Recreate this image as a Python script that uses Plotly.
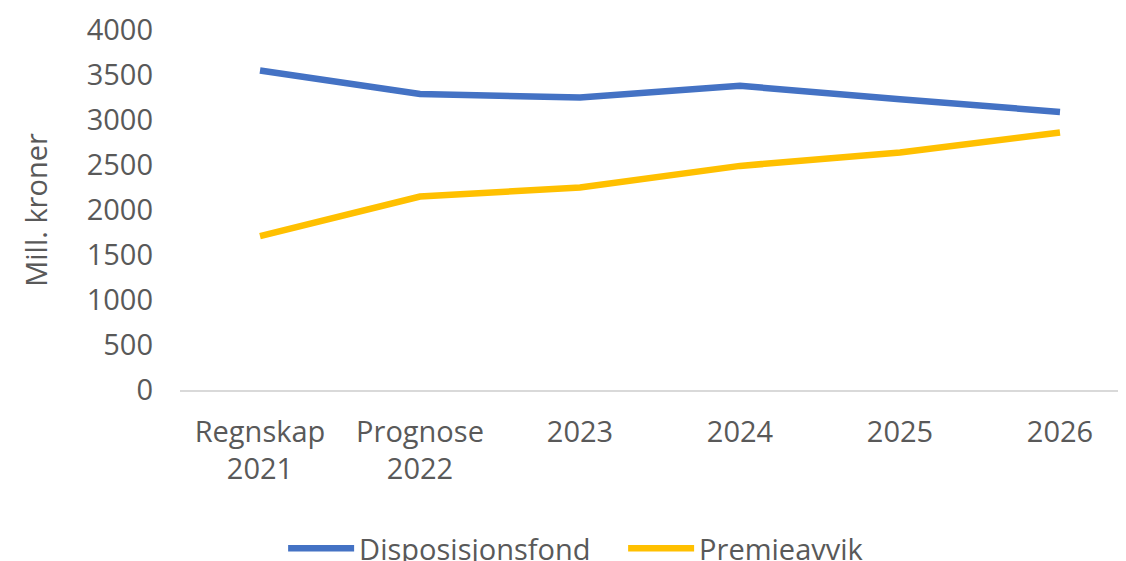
import plotly.graph_objects as go

categories = ["Regnskap<br>2021", "Prognose<br>2022", "2023", "2024", "2025", "2026"]
disposisjonsfond = [3550, 3290, 3250, 3380, 3230, 3090]
premieavvik = [1710, 2150, 2250, 2490, 2640, 2860]
y_ticks = [0, 500, 1000, 1500, 2000, 2500, 3000, 3500, 4000]

FONT = "Open Sans"
GRAY = "#595959"

fig = go.Figure()
fig.add_trace(go.Scatter(x=categories, y=disposisjonsfond, mode="lines",
                         name="Disposisjonsfond",
                         line=dict(color="#4472C4", width=6.5)))
fig.add_trace(go.Scatter(x=categories, y=premieavvik, mode="lines",
                         name="Premieavvik",
                         line=dict(color="#FFC000", width=6.5)))

fig.update_layout(
    width=1118, height=553,
    margin=dict(l=172, r=0, t=21.5, b=170.5, autoexpand=False),
    paper_bgcolor="white", plot_bgcolor="white",
    font=dict(family=FONT, size=29, color=GRAY),
    showlegend=True,
    legend=dict(orientation="h", x=0.109, xanchor="left", y=-0.369, yanchor="top",
                itemwidth=66, entrywidth=259, font=dict(size=29, color=GRAY),
                tracegroupgap=0),
    xaxis=dict(type="category", range=[-0.5, 5.4125], showgrid=False,
               showline=True, linecolor="#d9d9d9", linewidth=1.5, automargin=False,
               ticks="", tickfont=dict(size=29, color=GRAY), ticklabelstandoff=15),
    yaxis=dict(range=[0, 4000], tickvals=y_ticks, showgrid=False, zeroline=False,
               showline=False, ticks="", tickfont=dict(size=29, color=GRAY),
               ticklabelstandoff=26, automargin=False,
               title=dict(text="Mill. kroner", font=dict(size=29, color=GRAY), standoff=30)),
)

fig.write_html("out.html")
